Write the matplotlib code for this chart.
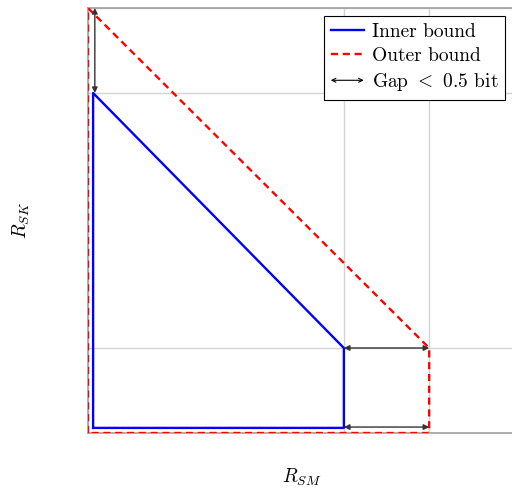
import matplotlib
matplotlib.use("Agg")
import matplotlib.pyplot as plt
from matplotlib.patches import FancyArrowPatch
from matplotlib.legend_handler import HandlerBase
from matplotlib.lines import Line2D

plt.rcParams['font.family'] = 'serif'
plt.rcParams['font.serif'] = ['cmr10', 'DejaVu Serif']
plt.rcParams['mathtext.fontset'] = 'cm'
plt.rcParams['axes.formatter.use_mathtext'] = True

# Data
inner_x = [0.06, 0.06, 3.0, 3.0, 0.06]
inner_y = [0.06, 4.0, 1.0, 0.06, 0.06]
outer_x = [0.0, 0.0, 4.0, 4.0, 0.0]
outer_y = [0.0, 5.0, 1.0, 0.0, 0.0]
ticks_x = [0, 3, 4, 5]
ticks_y = [0, 1, 4, 5]
gap_arrows = [((0.08, 5.0), (0.08, 4.0)), ((3.0, 1.0), (4.0, 1.0)), ((3.0, 0.07), (4.0, 0.07))]

W, H = 512, 488
fig = plt.figure(figsize=(W / 100, H / 100), dpi=100)
ax = fig.add_axes([88 / W, (488 - 433) / H, 426.5 / W, 425 / H])
ax.set_xlim(0, 5)
ax.set_ylim(0, 5)
ax.set_xticks(ticks_x)
ax.set_yticks(ticks_y)
ax.tick_params(length=0, labelbottom=False, labelleft=False)
ax.grid(True, color='#d3d3d3', linewidth=1.0)
ax.set_axisbelow(True)
for s in ax.spines.values():
    s.set_color('#a0a0a0')
    s.set_linewidth(1.2)

ax.plot(outer_x, outer_y, color='red', linestyle=(0, (3, 2)), linewidth=1.7, zorder=3)
ax.plot(inner_x, inner_y, color='blue', linewidth=1.7, zorder=4)

for (p0, p1) in gap_arrows:
    ax.add_patch(FancyArrowPatch(p0, p1, arrowstyle='<|-|>', mutation_scale=8,
                                 color='#333333', linewidth=1.0, shrinkA=0, shrinkB=0, zorder=5))

ax.set_xlabel(r'$R_{SM}$', fontsize=14, labelpad=24)
ax.set_ylabel(r'$R_{SK}$', fontsize=14, labelpad=40)


class ArrowHandler(HandlerBase):
    def create_artists(self, legend, orig_handle, xdescent, ydescent, width, height, fontsize, trans):
        y = height / 2 - ydescent
        a = FancyArrowPatch((-xdescent, y), (-xdescent + width, y), arrowstyle='<->',
                            mutation_scale=7, color='black', linewidth=0.8,
                            shrinkA=0, shrinkB=0, transform=trans)
        return [a]


class ArrowProxy:
    pass


h_inner = Line2D([], [], color='blue', linewidth=1.7)
h_outer = Line2D([], [], color='red', linestyle=(0, (3, 2)), linewidth=1.7)
h_gap = ArrowProxy()
leg = ax.legend([h_inner, h_outer, h_gap], ['Inner bound', 'Outer bound', r'Gap $<$ 0.5 bit'],
                handler_map={ArrowProxy: ArrowHandler()}, loc='upper right',
                bbox_to_anchor=(505 / W, 1 - 16 / H), bbox_transform=fig.transFigure,
                fontsize=14, frameon=True, fancybox=False, framealpha=1, edgecolor='black',
                handlelength=1.7, handletextpad=0.4, borderpad=0.35, labelspacing=0.32,
                borderaxespad=0)
leg.get_frame().set_linewidth(0.8)

fig.savefig('out.png', dpi=100)
